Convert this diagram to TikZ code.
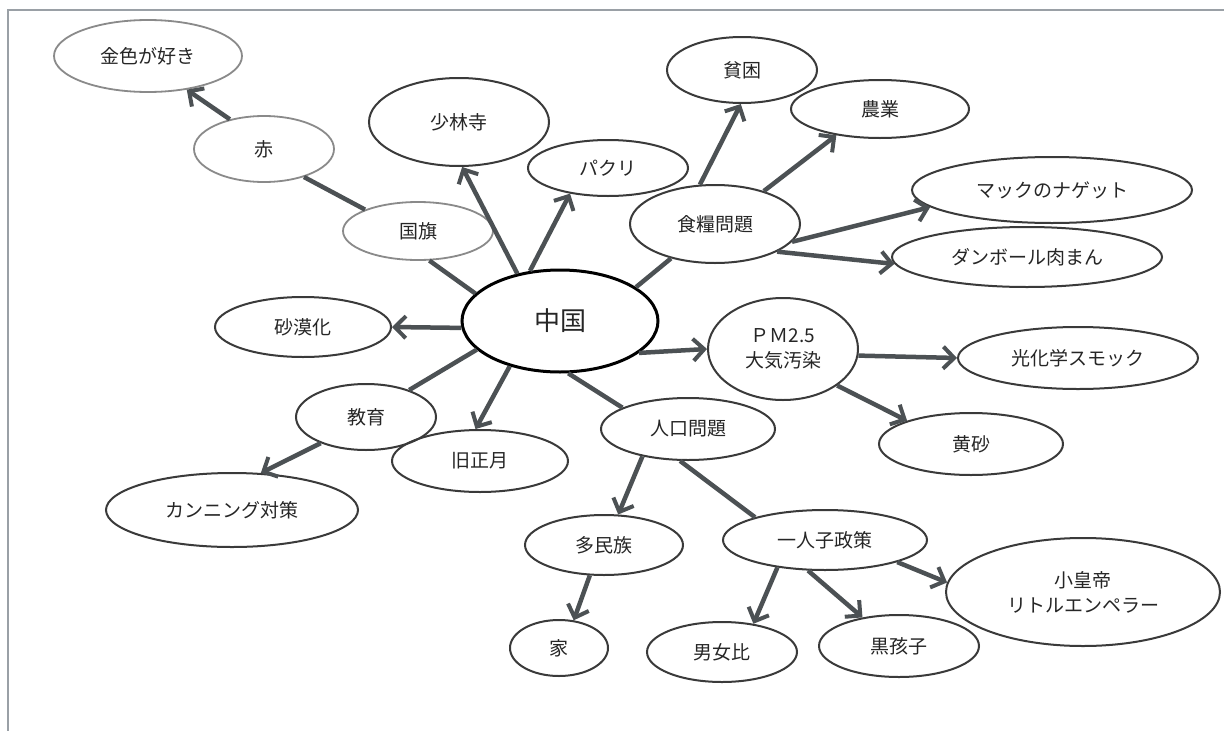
\documentclass[tikz,border=0pt]{standalone}
\usepackage{fontspec}
\setmainfont{Noto Sans CJK JP}
\usetikzlibrary{shapes.geometric,arrows.meta}
\definecolor{outl}{HTML}{3A3A3A}
\definecolor{lightoutl}{HTML}{8A8A8A}
\definecolor{arr}{HTML}{4C5154}
\definecolor{frame}{HTML}{9AA0A6}
\tikzset{
  bub/.style={ellipse,draw=outl,line width=2pt,inner sep=0pt,font=\fontsize{19}{25}\selectfont,text=black!85,align=center},
  lbub/.style={bub,draw=lightoutl,line width=1.8pt},
  hub/.style={bub,draw=black,line width=3pt,font=\fontsize{26}{30}\selectfont},
  arw/.style={draw=arr,line width=4.5pt,-{Straight Barb[length=11pt,width=22pt,line width=4pt]}},
  lnk/.style={draw=arr,line width=4.5pt}
}
\begin{document}
\begin{tikzpicture}[x=1pt,y=-1pt]
\useasboundingbox (0,0) rectangle (1224,731);
\fill[white] (0,0) rectangle (1224,731);
\coordinate (ftl) at (8,10);
\coordinate (ftr) at (1224,10);
\coordinate (fbl) at (8,731);
\draw[frame,line width=1.2pt] (fbl) -- (ftl) -- (ftr);

\node[hub,minimum width=196pt,minimum height=102pt] (cn) at (560,321) {中国};
\node[lbub,minimum width=188pt,minimum height=72pt] (gold) at (148,56) {金色が好き};
\node[lbub,minimum width=140pt,minimum height=66pt] (red) at (264,149) {赤};
\node[lbub,minimum width=150pt,minimum height=58pt] (flag) at (418,231) {国旗};
\node[bub,minimum width=180pt,minimum height=88pt] (shao) at (459,122) {少林寺};
\node[bub,minimum width=176pt,minimum height=60pt] (desert) at (303,327) {砂漠化};
\node[bub,minimum width=160pt,minimum height=56pt] (pakuri) at (608,168) {パクリ};
\node[bub,minimum width=150pt,minimum height=66pt] (pov) at (742,70) {貧困};
\node[bub,minimum width=178pt,minimum height=58pt] (agri) at (880,109) {農業};
\node[bub,minimum width=170pt,minimum height=78pt] (food) at (715,224) {食糧問題};
\node[bub,minimum width=280pt,minimum height=66pt] (mac) at (1052,190) {マックのナゲット};
\node[bub,minimum width=270pt,minimum height=60pt] (dan) at (1027,257) {ダンボール肉まん};
\node[bub,minimum width=150pt,minimum height=102pt] (pm) at (783,349) {ＰＭ2.5\\大気汚染};
\node[bub,minimum width=240pt,minimum height=62pt] (smog) at (1078,358) {光化学スモック};
\node[bub,minimum width=184pt,minimum height=62pt] (kosa) at (971,444) {黄砂};
\node[bub,minimum width=174pt,minimum height=62pt] (pop) at (688,429) {人口問題};
\node[bub,minimum width=140pt,minimum height=66pt] (edu) at (366,417) {教育};
\node[bub,minimum width=176pt,minimum height=62pt] (ny) at (480,461) {旧正月};
\node[bub,minimum width=252pt,minimum height=74pt] (cheat) at (232,510) {カンニング対策};
\node[bub,minimum width=158pt,minimum height=60pt] (eth) at (604,545) {多民族};
\node[bub,minimum width=98pt,minimum height=56pt] (ie) at (559,648) {家};
\node[bub,minimum width=204pt,minimum height=60pt] (one) at (825,540) {一人子政策};
\node[bub,minimum width=274pt,minimum height=108pt] (emp) at (1083,592) {小皇帝\\リトルエンペラー};
\node[bub,minimum width=150pt,minimum height=60pt] (sex) at (722,652) {男女比};
\node[bub,minimum width=160pt,minimum height=62pt] (black) at (899,646) {黒孩子};

\path[lnk] (cn.162) -- (flag.-69);
\path[lnk] (flag.158) -- (red.-35);
\path[arw] (red.139) -- (gold.-41);
\path[arw] (cn.132) -- (shao.-86);
\path[arw] (cn.121) -- (pakuri.-146);
\path[lnk] (cn.24) -- (food.-142);
\path[arw] (food.111) -- (pov.-92);
\path[arw] (food.34) -- (agri.-149);
\path[arw] (food.-13) -- (mac.-172);
\path[arw] (food.-24) -- (dan.-177);
\path[arw] (cn.184) -- (desert.0);
\path[arw] (cn.-22) -- (pm.180);
\path[arw] (pm.-5) -- (smog.180);
\path[arw] (pm.-34) -- (kosa.160);
\path[lnk] (cn.199) -- (edu.32);
\path[arw] (edu.210) -- (cheat.52);
\path[arw] (cn.222) -- (ny.98);
\path[lnk] (cn.-81) -- (pop.162);
\path[arw] (pop.-149) -- (eth.65);
\path[arw] (eth.-115) -- (ie.62);
\path[lnk] (pop.-104) -- (one.162);
\path[arw] (one.-150) -- (sex.42);
\path[arw] (one.-119) -- (black.142);
\path[arw] (one.-17) -- (emp.176);
\end{tikzpicture}
\end{document}
